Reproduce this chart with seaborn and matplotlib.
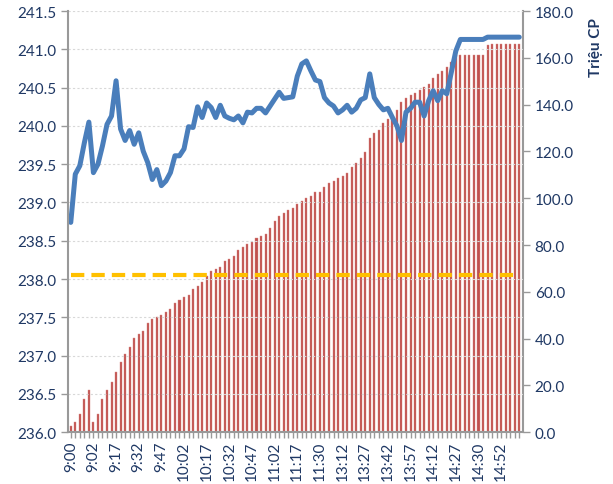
import numpy as np
import pandas as pd
import matplotlib
matplotlib.use("Agg")
import matplotlib.pyplot as plt
import seaborn as sns

# ── Data ─────────────────────────────────────────────────────────────────────
time_labels = ["9:00", "9:02", "9:17", "9:32", "9:47", "10:02", "10:17", "10:32",
               "10:47", "11:02", "11:17", "11:30", "13:12", "13:27", "13:42",
               "13:57", "14:12", "14:27", "14:30", "14:52"]

volume = [2.4, 4.4, 7.6, 14.1, 18.1, 4.4, 7.6, 14.1, 18.1, 21.5,
          25.5, 30.1, 33.2, 36.5, 40.2, 41.8, 43.3, 46.6, 48.5, 49.3,
          50.2, 51.2, 52.6, 55.4, 56.6, 57.6, 58.6, 61.1, 62.3, 64.3,
          66.8, 68.8, 69.7, 70.8, 73.1, 74.0, 75.5, 77.7, 79.0, 80.3,
          81.3, 82.9, 83.8, 84.7, 87.1, 90.2, 92.3, 93.6, 94.9, 95.8,
          97.5, 98.9, 100.0, 101.0, 102.5, 102.5, 104.9, 106.6, 107.4, 108.5,
          109.6, 111.0, 113.4, 115.0, 117.0, 119.6, 125.6, 127.7, 129.1, 132.0,
          133.8, 135.5, 137.7, 141.0, 142.8, 144.1, 145.2, 146.2, 147.4, 148.8,
          151.3, 153.1, 154.5, 156.3, 158.2, 161.2, 161.2, 161.2, 161.2, 161.2,
          161.2, 161.2, 165.5, 165.9, 165.9, 165.9, 165.9, 165.9, 165.9, 165.9]

price = [238.74, 239.37, 239.48, 239.78, 240.05, 239.39, 239.50, 239.74, 240.02, 240.13,
         240.59, 239.96, 239.81, 239.94, 239.76, 239.91, 239.67, 239.52, 239.30, 239.43,
         239.22, 239.28, 239.39, 239.61, 239.61, 239.70, 239.99, 239.98, 240.25, 240.11,
         240.30, 240.24, 240.11, 240.27, 240.13, 240.10, 240.08, 240.13, 240.04, 240.18,
         240.17, 240.23, 240.23, 240.17, 240.26, 240.35, 240.44, 240.36, 240.37, 240.38,
         240.65, 240.81, 240.85, 240.72, 240.60, 240.58, 240.37, 240.30, 240.26, 240.17,
         240.21, 240.27, 240.18, 240.23, 240.34, 240.37, 240.68, 240.37, 240.28, 240.21,
         240.23, 240.11, 240.00, 239.81, 240.18, 240.23, 240.31, 240.31, 240.13, 240.33,
         240.46, 240.33, 240.46, 240.42, 240.70, 240.98, 241.13, 241.13, 241.13, 241.13,
         241.13, 241.13, 241.16, 241.16, 241.16, 241.16, 241.16, 241.16, 241.16, 241.16]

ref_price = 238.05

n = len(price)
df = pd.DataFrame({"idx": np.arange(n), "price": price, "volume": volume,
                   "ref": [ref_price] * n})

TEXT = "#1F3864"
AXIS = "#999999"

sns.set_style("white")
plt.rcParams["font.family"] = ["Lato", "DejaVu Sans"]

fig = plt.figure(figsize=(6.13, 4.85), dpi=100)
ax = fig.add_axes([0.111, 0.107, 0.742, 0.868])
ax2 = ax.twinx()

# ── Volume bars (right axis) ─────────────────────────────────────────────────
sns.barplot(data=df, x="idx", y="volume", ax=ax2, color="#C0504D",
            width=0.45, saturation=1, edgecolor="#D98C8A", linewidth=0.3)
ax2.set_ylim(0, 180)
ax2.set_yticks(np.arange(0, 181, 20))
ax2.set_yticklabels([f"{v:.1f}" for v in np.arange(0, 181, 20)],
                    color=TEXT, fontsize=11)
ax2.set_ylabel("Triệu CP", color=TEXT, fontsize=11, fontweight="bold",
               loc="top")
ax2.yaxis.set_label_coords(1.145, 0.985)

# ── Price line + reference (left axis) ───────────────────────────────────────
ax.set_zorder(ax2.get_zorder() + 1)
ax.patch.set_visible(False)
sns.lineplot(data=df, x="idx", y="ref", ax=ax, color="#FFC000", linewidth=3,
             dashes=False)
ax.lines[-1].set_dashes((3.2, 1.7))
sns.lineplot(data=df, x="idx", y="price", ax=ax, color="#4A7EBB", linewidth=3.6)

ax.set_ylim(236.0, 241.5)
ax.set_yticks(np.arange(236.0, 241.51, 0.5))
ax.set_yticklabels([f"{v:.1f}" for v in np.arange(236.0, 241.51, 0.5)],
                   color=TEXT, fontsize=11)
ax.set_ylabel("")
ax.set_xlabel("")
ax2.set_xlabel("")
ax.yaxis.grid(True, color="#D8D8D8", linestyle=(0, (2, 2)), linewidth=0.8)

ax.set_xlim(-0.6, 99.8)
ax2.set_xlim(-0.6, 99.8)
ax.set_xticks(np.arange(0, n, 5))
ax.set_xticklabels(time_labels, rotation=90, color=TEXT, fontsize=11)
ax.set_xticks(np.arange(n), minor=True)
ax2.tick_params(axis="x", which="both", bottom=False, labelbottom=False)

ax.tick_params(axis="x", which="both", direction="out", length=4, width=1,
               color=AXIS, bottom=True, pad=2)
ax.tick_params(axis="y", direction="out", length=5, width=1, color=AXIS,
               left=True)
ax2.tick_params(axis="y", direction="out", length=5, width=1, color=AXIS,
                right=True)

for a in (ax, ax2):
    a.spines["top"].set_visible(False)
    for s in ("left", "right", "bottom"):
        a.spines[s].set_color(AXIS)
        a.spines[s].set_linewidth(1.5)
ax.spines["right"].set_visible(False)
ax2.spines["left"].set_visible(False)
ax2.spines["bottom"].set_visible(False)

fig.savefig("out.png", dpi=100)
plt.close(fig)
